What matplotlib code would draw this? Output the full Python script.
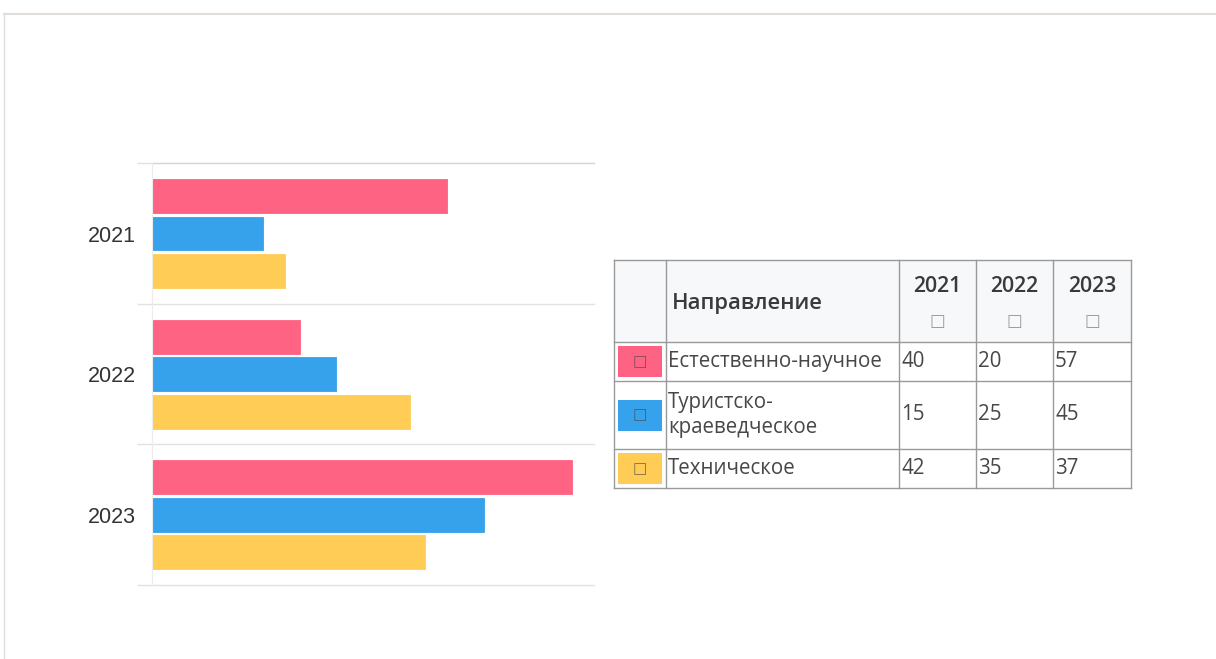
import numpy as np
import matplotlib.pyplot as plt
from matplotlib.patches import Rectangle
from matplotlib.lines import Line2D

# chart data
years = ['2021', '2022', '2023']
directions = ['Естественно-научное', 'Туристско-\nкраеведческое', 'Техническое']
colors = ['#ff6384', '#36a2eb', '#ffcd56']
natural_science = [40, 20, 57]
tourism = [15, 25, 45]
technical = [18, 35, 37]
series = [natural_science, tourism, technical]

# values printed in the table
table_values = [['40', '20', '57'],
                ['15', '25', '45'],
                ['42', '35', '37']]

W, H = 1216, 659
fig = plt.figure(figsize=(W / 100, H / 100), dpi=100)
fig.patch.set_facecolor('white')

# page frame (thin grey border at top and left)
fig.add_artist(Line2D([4 / W, 1], [1 - 14 / H, 1 - 14 / H], color='#e2ddd9', lw=1.5))
fig.add_artist(Line2D([4 / W, 4 / W], [0, 1 - 14 / H], color='#e2ddd9', lw=1.0))

# ---- bar chart ----
ax = fig.add_axes([152.3 / W, 1 - 585 / H, (594 - 152.3) / W, (585 - 163.3) / H])
y = np.arange(len(years))
slot = 0.8 / len(series)
for i, vals in enumerate(series):
    ax.barh(y + (i - 1) * slot, vals, height=slot * 0.9, color=colors[i], edgecolor=colors[i], lw=0.6)

ax.set_xlim(0, 60)
ax.set_ylim(len(years) - 0.5, -0.5)
ax.set_xticks([])
ax.set_yticks(y)
ax.set_yticklabels(years, fontsize=15.5, color='#333333', family='Liberation Sans')
ax.tick_params(axis='y', which='major', length=0, pad=12)
ax.set_yticks(np.arange(-0.5, len(years)), minor=True)
ax.tick_params(axis='y', which='minor', length=10.8, color='#e2e2e2', width=1)
ax.grid(axis='y', which='minor', color='#e2e2e2', lw=1)
for t in ax.yaxis.get_minor_ticks():
    t.gridline.set_clip_on(False)
# top border line is a bit darker
ax.yaxis.get_minor_ticks()[0].gridline.set_color('#d4d4d4')
for s in ['top', 'right', 'bottom']:
    ax.spines[s].set_visible(False)
ax.spines['left'].set_color('#ececec')
ax.set_axisbelow(True)

# ---- table ----
tax = fig.add_axes([0, 0, 1, 1])
tax.set_xlim(0, W)
tax.set_ylim(H, 0)
tax.axis('off')

col_edges = [614, 666, 899, 976, 1053, 1131]
row_edges = [260, 342, 381, 449, 488]
line_c = '#9a9a9a'
text_c = '#3a3a3a'
body_c = '#474747'
font = ['Open Sans', 'DejaVu Sans']

tax.add_patch(Rectangle((col_edges[0], row_edges[0]), col_edges[-1] - col_edges[0],
                        row_edges[1] - row_edges[0], color='#f7f8f9', lw=0))
for xe in col_edges:
    tax.plot([xe, xe], [row_edges[0], row_edges[-1]], color=line_c, lw=1)
for ye in row_edges:
    tax.plot([col_edges[0], col_edges[-1]], [ye, ye], color=line_c, lw=1)

# header
hy = (row_edges[0] + row_edges[1]) / 2
tax.text(col_edges[1] + 6, hy + 2, 'Направление', fontsize=15.8, fontweight='semibold',
         color=text_c, va='center', ha='left', family=font)
for j, yr in enumerate(years):
    cx = (col_edges[2 + j] + col_edges[3 + j]) / 2
    tax.text(cx, hy - 14, yr, fontsize=15.3, fontweight='semibold', color=text_c,
             va='center', ha='center', family=font)
    tax.text(cx, hy + 20, '□', fontsize=12, color='#9a9a9a', va='center', ha='center',
             family='DejaVu Sans')

# body rows
for i, name in enumerate(directions):
    top, bot = row_edges[i + 1], row_edges[i + 2]
    cy = (top + bot) / 2
    tax.add_patch(Rectangle((col_edges[0] + 4, cy - 15.5), 44, 31, color=colors[i], lw=0))
    tax.text(col_edges[0] + 26, cy, '□', fontsize=11, color='#444444', alpha=0.7,
             va='center', ha='center', family='DejaVu Sans')
    tax.text(col_edges[1] + 2, cy, name, fontsize=14.8, color=body_c, va='center',
             ha='left', family=font, linespacing=1.2)
    for j, v in enumerate(table_values[i]):
        tax.text(col_edges[2 + j] + 2, cy, v, fontsize=14.8, color=body_c,
                 va='center', ha='left', family=font)

fig.savefig('out.png', dpi=100)
